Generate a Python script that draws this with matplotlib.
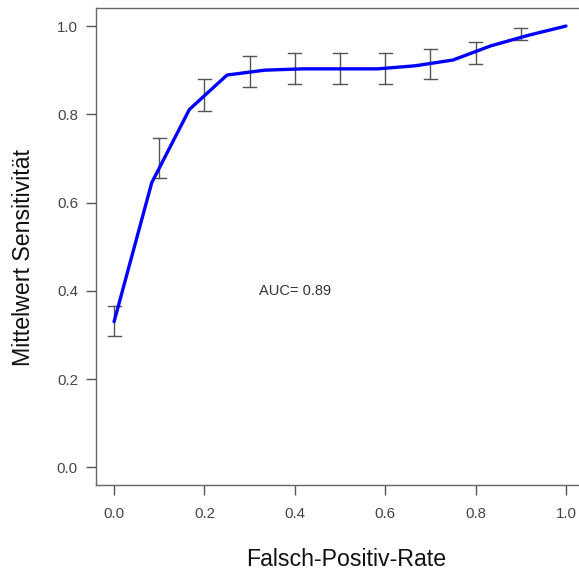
import matplotlib
matplotlib.use("Agg")
import matplotlib.pyplot as plt
import numpy as np

plt.rcParams['font.family'] = ['Liberation Sans', 'DejaVu Sans']

# ROC curve (mean sensitivity)
fpr = [0.0, 1/12, 2/12, 3/12, 4/12, 5/12, 6/12, 7/12, 8/12, 9/12, 10/12, 11/12, 1.0]
sens = [0.330, 0.645, 0.811, 0.889, 0.900, 0.903, 0.903, 0.903, 0.910, 0.923, 0.955, 0.979, 1.0]

# error bars
err_x = [0.0, 0.1, 0.2, 0.3, 0.4, 0.5, 0.6, 0.7, 0.8, 0.9]
err_lo = [0.297, 0.656, 0.807, 0.861, 0.868, 0.868, 0.868, 0.881, 0.914, 0.968]
err_hi = [0.365, 0.747, 0.879, 0.932, 0.938, 0.938, 0.938, 0.949, 0.964, 0.995]

ticks = [0.0, 0.2, 0.4, 0.6, 0.8, 1.0]
tick_labels = ["0.0", "0.2", "0.4", "0.6", "0.8", "1.0"]

W, H = 579, 575
fig = plt.figure(figsize=(W/100, H/100), dpi=100)
left, right, top, bottom = 96, 584, 8.4, 485
ax = fig.add_axes([left/W, (H-bottom)/H, (right-left)/W, (bottom-top)/H])

ax.plot(fpr, sens, color='#0000FF', lw=2.4, zorder=3, solid_capstyle='round')
for x, lo, hi in zip(err_x, err_lo, err_hi):
    ax.plot([x, x], [lo, hi], color='#555555', lw=1, zorder=2)
    ax.plot([x-0.0145, x+0.0145], [lo, lo], color='#555555', lw=1, zorder=2)
    ax.plot([x-0.0145, x+0.0145], [hi, hi], color='#555555', lw=1, zorder=2)

ax.text(0.4, 0.40, "AUC= 0.89", ha='center', va='center', fontsize=10.5, color='#333333')

ax.set_xlim(-0.04, 1.04)
ax.set_ylim(-0.04, 1.04)
ax.set_xticks(ticks)
ax.set_xticklabels(tick_labels)
ax.set_yticks(ticks)
ax.set_yticklabels(tick_labels)
ax.tick_params(axis='both', direction='out', length=7, width=1, color='#555555',
               labelsize=10.8, labelcolor='#444444')
ax.tick_params(axis='x', pad=9)
ax.tick_params(axis='y', pad=6)
for s in ax.spines.values():
    s.set_color('#666666')
    s.set_linewidth(1)

fig.text(346/W, 1-560/H, "Falsch-Positiv-Rate", ha='center', va='center', fontsize=16.7, color='#111111')
fig.text(24/W, 1-258/H, "Mittelwert Sensitivität", ha='center', va='center', rotation=90, fontsize=16.7, color='#111111')

fig.savefig("out.png", dpi=100)
